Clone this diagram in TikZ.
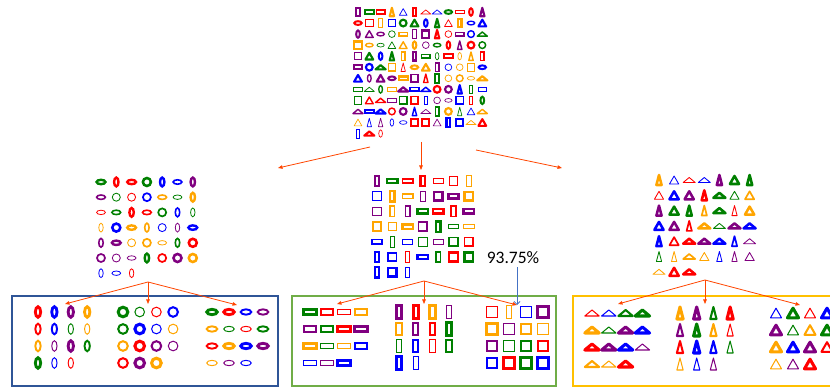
\documentclass[tikz,border=0pt]{standalone}
\usepackage{fontspec}
\setmainfont{Carlito}
\usepackage{tikz}
\usetikzlibrary{arrows.meta}
\definecolor{rd}{RGB}{255,0,0}
\definecolor{bl}{RGB}{0,0,255}
\definecolor{pu}{RGB}{128,0,128}
\definecolor{og}{RGB}{255,165,0}
\definecolor{gn}{RGB}{0,128,0}
\definecolor{flowred}{RGB}{255,69,0}
\definecolor{accblue}{RGB}{68,114,196}
\definecolor{boxblue}{RGB}{47,85,151}
\definecolor{boxgreen}{RGB}{112,173,71}
\definecolor{boxorange}{RGB}{255,192,0}

% shapes: centre x, centre y, colour, weight (1 thin .. 3 thick); \sc scales them
\newcommand\sheh[4]{\draw[#3, line width=#4*\sc*0.8pt] (#1,#2) ellipse [x radius=4.4*\sc, y radius=2.2*\sc];}
\newcommand\shev[4]{\draw[#3, line width=#4*\sc*0.8pt] (#1,#2) ellipse [x radius=2.2*\sc, y radius=4.4*\sc];}
\newcommand\shec[4]{\draw[#3, line width=#4*\sc*0.85pt] (#1,#2) circle [radius=4*\sc];}
\newcommand\shrh[4]{\draw[#3, line width=#4*\sc*0.85pt] (#1,#2) ++(-5.2*\sc,-2.2*\sc) rectangle ++(10.4*\sc,4.4*\sc);}
\newcommand\shrv[4]{\draw[#3, line width=#4*\sc*0.85pt] (#1,#2) ++(-2.2*\sc,-5.2*\sc) rectangle ++(4.4*\sc,10.4*\sc);}
\newcommand\shrs[4]{\draw[#3, line width=#4*\sc*0.85pt] (#1,#2) ++(-4.3*\sc,-4.3*\sc) rectangle ++(8.6*\sc,8.6*\sc);}
\newcommand\shtw[4]{\draw[#3, line width=#4*\sc*0.85pt, line join=round] (#1,#2) ++(0,-2.5*\sc) -- ++(6*\sc,5*\sc) -- ++(-12*\sc,0) -- cycle;}
\newcommand\shtt[4]{\draw[#3, line width=#4*\sc*0.85pt, line join=round] (#1,#2) ++(0,-5*\sc) -- ++(2.6*\sc,10*\sc) -- ++(-5.2*\sc,0) -- cycle;}
\newcommand\shte[4]{\draw[#3, line width=#4*\sc*0.85pt, line join=round] (#1,#2) ++(0,-4*\sc) -- ++(4.6*\sc,8*\sc) -- ++(-9.2*\sc,0) -- cycle;}

% grid: x0, y0, dx, dy, columns, scale, {kind/colour/weight, ...}
\newcommand\drawgrid[7]{%
  \def\sc{#6}%
  \foreach \k/\c/\w [count=\i from 0] in {#7} {
    \pgfmathsetmacro\px{#1+mod(\i,#5)*#3}
    \pgfmathsetmacro\py{#2+floor(\i/#5)*#4}
    \csname sh\k\endcsname{\px}{\py}{\c}{\w}
  }}

\begin{document}
\begin{tikzpicture}[x=1pt, y=-1pt,
        flow/.style={draw=flowred, line width=0.8pt, -{Triangle[length=4.5pt, width=3.5pt]}},
        group/.style={line width=2pt},
    ]
        \useasboundingbox (0,0) rectangle (830,387);
        \clip (0,0) rectangle (830,387);

        % Mixed pile of shapes
        \drawgrid{358}{12}{11.3}{11.05}{12}{0.84}{
            rv/pu/3, rh/gn/3, rh/rd/2, tt/og/3, te/bl/1, rv/rd/3, tw/rd/1, tw/bl/1, eh/gn/3, rh/rd/1, ev/rd/3, tt/pu/3,
            eh/rd/3, rs/rd/1, rv/og/1, rs/bl/1, ec/gn/3, te/gn/3, ev/bl/3, tt/gn/3, te/rd/1, rv/og/3, eh/bl/2, te/bl/3,
            ev/pu/3, te/pu/2, eh/pu/2, ec/gn/1, rh/og/2, rv/pu/1, rs/pu/3, tt/rd/3, ec/rd/1, rh/pu/2, ec/bl/2, tw/gn/2,
            rs/og/3, eh/og/2, eh/gn/1, te/gn/1, te/og/2, ev/og/3, ec/pu/1, eh/gn/2, ev/rd/3, tt/pu/2, ec/rd/3, ec/gn/2,
            rs/pu/1, te/gn/3, ev/bl/3, tt/gn/3, rv/og/2, rv/pu/3, rh/gn/2, ev/gn/1, rh/rd/3, ev/og/1, tt/og/2, rv/rd/2,
            rh/pu/3, ec/bl/3, tw/gn/3, rs/og/2, tt/rd/1, eh/og/3, te/og/3, rv/pu/2, ec/bl/1, ec/og/1, rs/og/1, eh/bl/3,
            te/bl/3, ev/pu/2, te/pu/3, eh/pu/3, rh/og/3, rs/pu/2, tt/rd/2, rv/gn/3, ec/og/1, ec/og/2, eh/og/1, tw/og/3,
            rh/gn/1, tw/gn/1, ev/gn/2, rh/og/1, tw/pu/3, rh/bl/2, tw/bl/2, ec/rd/3, ec/pu/3, tt/bl/3, rv/gn/1, rh/bl/1,
            rs/gn/1, te/rd/2, tw/rd/2, rh/pu/1, rs/gn/2, rs/rd/2, rv/bl/1, ec/pu/1, eh/pu/1, rs/bl/2, rv/rd/1, ev/gn/3,
            tw/pu/2, rh/bl/3, tw/bl/3, ec/rd/2, ec/pu/3, tt/bl/2, tw/pu/1, rv/gn/2, ec/og/3, tt/gn/1, te/bl/1, tw/og/2,
            te/og/1, tt/bl/1, tt/pu/1, ev/bl/1, eh/bl/1, rs/rd/3, rs/rd/3, te/pu/1, rv/bl/3, rs/bl/3, tw/og/1, te/rd/3,
            rv/bl/1, tw/rd/3, ev/rd/1}

        % First split: ellipses, rectangles, triangles
        \drawgrid{101}{182}{15.3}{15.2}{7}{1}{
            eh/gn/3, ev/rd/3, eh/rd/3, ec/gn/3, ev/bl/3, eh/bl/2, ev/pu/3,
            eh/pu/2, ec/gn/1, ec/rd/1, ec/bl/2, eh/og/2, eh/gn/1, ev/og/3,
            eh/rd/1, eh/gn/2, ev/rd/3, eh/rd/2, ec/gn/2, ev/bl/2, ev/gn/1,
            ev/og/1, ec/bl/3, eh/og/3, ev/og/2, ec/bl/1, ev/pu/1, eh/bl/3,
            ev/pu/2, eh/pu/3, ec/og/1, ec/og/2, eh/og/1, ev/gn/2, ec/rd/3,
            ec/pu/2, ec/pu/1, eh/pu/1, ev/gn/3, ec/rd/2, ec/pu/3, ec/og/3,
            ev/bl/1, eh/bl/1, ev/rd/1}
        \drawgrid{377}{181}{15.3}{15.2}{7}{1}{
            rv/pu/3, rh/gn/3, rh/rd/2, rv/rd/3, rh/rd/1, rs/rd/1, rv/og/1,
            rs/bl/1, rv/og/3, rh/og/2, rv/pu/1, rs/pu/3, rh/pu/3, rs/og/3,
            rs/pu/1, rv/og/2, rv/pu/2, rh/gn/3, rh/rd/3, rv/rd/2, rh/pu/3,
            rs/og/2, rs/og/1, rh/og/3, rs/pu/2, rv/gn/3, rh/gn/1, rh/og/1,
            rh/bl/2, rv/gn/1, rh/bl/1, rs/gn/1, rh/pu/1, rs/gn/2, rs/rd/2,
            rv/bl/2, rs/bl/2, rv/rd/1, rh/bl/3, rv/gn/2, rs/rd/3, rs/gn/3,
            rv/bl/3, rs/bl/3, rv/bl/1}
        \drawgrid{659}{180}{15.1}{15.3}{7}{1}{
            tt/og/3, te/bl/1, tw/rd/1, tw/bl/1, tt/pu/3, te/gn/3, tt/gn/3,
            te/rd/1, te/bl/3, te/pu/3, tt/rd/3, tw/gn/3, te/gn/1, te/og/2,
            tt/pu/3, te/gn/3, tt/gn/3, tt/og/2, tw/gn/3, tt/rd/1, te/og/3,
            te/bl/3, te/pu/3, tt/rd/2, tw/og/3, tw/gn/1, tw/pu/3, tw/bl/3,
            tt/bl/3, te/rd/2, tw/rd/3, tw/pu/3, tw/bl/3, tt/bl/2, tw/pu/1,
            tt/gn/1, tt/og/1, tw/og/2, te/og/1, tt/bl/1, tt/pu/1, te/pu/1,
            tw/og/1, te/rd/3, tw/rd/3}

        % Second split inside the boxes
        \drawgrid{38}{312}{16.4}{17}{4}{1.2}{
            ev/rd/3, ev/bl/3, ev/pu/3, ev/og/3, ev/rd/2, ev/bl/2, ev/gn/1, ev/og/1,
            ev/og/2, ev/pu/1, ev/pu/3, ev/gn/2, ev/gn/3, ev/bl/1, ev/rd/1}
        \drawgrid{123}{312}{16.7}{17}{4}{1.2}{
            ec/gn/3, ec/gn/1, ec/rd/1, ec/bl/2, ec/gn/2, ec/bl/3, ec/bl/1, ec/og/1,
            ec/og/2, ec/rd/3, ec/pu/2, ec/pu/1, ec/rd/2, ec/pu/3, ec/og/3}
        \drawgrid{212}{312}{17}{17}{4}{1.2}{
            eh/gn/3, eh/rd/3, eh/bl/2, eh/pu/2, eh/og/2, eh/gn/1, eh/rd/1, eh/gn/2,
            eh/rd/2, eh/og/3, eh/bl/3, eh/pu/3, eh/og/1, eh/pu/1, eh/bl/1}
        \drawgrid{310}{312}{17}{17}{4}{1.2}{
            rh/gn/3, rh/rd/2, rh/rd/1, rh/og/2, rh/pu/2, rh/gn/2, rh/rd/3, rh/pu/3,
            rh/og/3, rh/gn/1, rh/og/1, rh/bl/2, rh/bl/1, rh/pu/1, rh/bl/3}
        \drawgrid{399}{312}{16.7}{17}{4}{1.2}{
            rv/pu/3, rv/rd/3, rv/og/3, rv/pu/1, rv/og/2, rv/pu/2, rv/rd/2, rv/gn/3,
            rv/gn/1, rv/bl/2, rv/rd/1, rv/gn/2, rv/bl/3, rv/bl/1}
        \drawgrid{492}{312}{17}{17}{4}{1.2}{
            rs/rd/1, rv/og/1, rs/bl/1, rs/pu/3, rs/og/3, rs/pu/1, rs/og/2, rs/og/1,
            rs/pu/2, rs/gn/1, rs/gn/2, rs/rd/2, rs/bl/2, rs/rd/3, rs/gn/3, rs/bl/3}
        \drawgrid{592}{313}{16.8}{17}{4}{1.2}{
            tw/rd/1, tw/bl/1, tw/gn/2, tw/gn/3, tw/og/3, tw/gn/1, tw/pu/3, tw/bl/3,
            tw/rd/3, tw/pu/3, tw/bl/3, tw/pu/1, tw/og/2, tw/og/1, tw/rd/3}
        \drawgrid{680}{313}{16.7}{17}{4}{1.2}{
            tt/og/3, tt/pu/3, tt/gn/2, tt/rd/3, tt/pu/2, tt/gn/3, tt/og/2, tt/rd/1,
            tt/rd/2, tt/bl/3, tt/bl/2, tt/gn/1, tt/og/1, tt/bl/1, tt/pu/1}
        \drawgrid{776}{313}{17}{17}{4}{1.2}{
            te/bl/1, te/gn/3, te/rd/1, te/bl/3, te/pu/3, te/gn/1, te/og/2, te/gn/3,
            te/og/3, te/bl/3, te/pu/3, te/rd/2, te/og/1, te/pu/1, te/rd/3}

        % Boxes
        \draw[group, boxblue] (12,296) rectangle (278,386);
        \draw[group, boxgreen] (292,296) rectangle (556,386);
        \draw[group, boxorange] (573,296) rectangle (845,386);

        % Arrows
        \coordinate (pileL) at (370,147);
        \coordinate (pileM) at (421,142);
        \coordinate (pileR) at (476,150);
        \coordinate (ellIn) at (278,168);
        \coordinate (recIn) at (421,170);
        \coordinate (triIn) at (562,168);
        \draw[flow] (pileL) -- (ellIn);
        \draw[flow] (pileM) -- (recIn);
        \draw[flow] (pileR) -- (triIn);

        \coordinate (ellOut) at (148,282);
        \coordinate (recOut) at (424,281);
        \coordinate (triOut) at (705,280);
        \foreach \src/\a/\b/\c in {ellOut/65/148/237, recOut/337/424/517, triOut/618/705/800} {
            \coordinate (\src-a) at (\a,304);
            \coordinate (\src-b) at (\b,304);
            \coordinate (\src-c) at (\c,305);
            \draw[flow] (\src) -- (\src-a);
            \draw[flow] (\src) -- (\src-b);
            \draw[flow] (\src) -- (\src-c);
        }

        \node[font=\fontsize{17.5}{20}\selectfont, inner sep=1pt] (acc) at (513,258) {93.75\%};
        \coordinate (miss) at (517,305);
        \draw[accblue, line width=0.8pt, -{Straight Barb[length=3pt]}] (acc.south -| miss) ++(0,2) -- (miss);
    \end{tikzpicture}
\end{document}
